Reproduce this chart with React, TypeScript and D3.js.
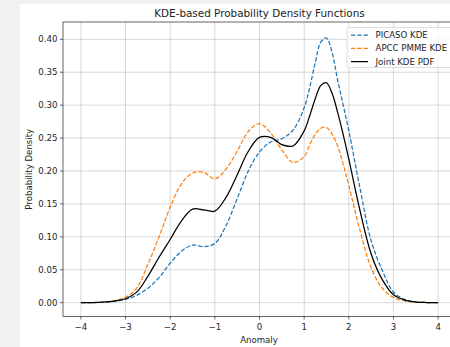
import React from "react";
import * as d3 from "d3";

const xs = [-4, -3.75, -3.5, -3.25, -3, -2.75, -2.5, -2.25, -2, -1.75, -1.5, -1.25, -1, -0.75, -0.5, -0.25, 0, 0.25, 0.5, 0.75, 1, 1.125, 1.25, 1.375, 1.5, 1.625, 1.75, 1.875, 2, 2.25, 2.5, 2.75, 3, 3.25, 3.5, 3.75, 4];
const picaso = [0, 0.0002, 0.0007, 0.002, 0.005, 0.011, 0.022, 0.038, 0.06, 0.078, 0.0875, 0.085, 0.09, 0.117, 0.158, 0.2, 0.229, 0.244, 0.249, 0.262, 0.296, 0.327, 0.365, 0.396, 0.402, 0.38, 0.338, 0.3, 0.261, 0.174, 0.094, 0.049, 0.016, 0.005, 0.0012, 0.0002, 0];
const apcc = [0, 0.0002, 0.0008, 0.003, 0.008, 0.022, 0.058, 0.1, 0.145, 0.18, 0.197, 0.198, 0.188, 0.203, 0.23, 0.26, 0.272, 0.258, 0.232, 0.213, 0.222, 0.24, 0.256, 0.265, 0.266, 0.256, 0.238, 0.21, 0.178, 0.11, 0.053, 0.022, 0.008, 0.003, 0.001, 0.0002, 0];
const joint = [0, 0.0002, 0.0008, 0.0025, 0.006, 0.016, 0.04, 0.069, 0.096, 0.124, 0.142, 0.141, 0.139, 0.16, 0.194, 0.23, 0.251, 0.251, 0.24, 0.238, 0.261, 0.284, 0.31, 0.33, 0.334, 0.318, 0.289, 0.255, 0.218, 0.14, 0.074, 0.035, 0.012, 0.004, 0.001, 0.0002, 0];
const xTicks = [-4, -3, -2, -1, 0, 1, 2, 3, 4];
const yTicks = [0, 0.05, 0.1, 0.15, 0.2, 0.25, 0.3, 0.35, 0.4];
const seriesNames = ["PICASO KDE", "APCC PMME KDE", "Joint KDE PDF"];

export default function App() {
  const W = 450, H = 347;
  const left = 63, right = 456, top = 22, bottom = 316.5;
  const x = d3.scaleLinear().domain([-4.4, 4.4]).range([left, right]);
  const y = d3.scaleLinear().domain([-0.021, 0.4263]).range([bottom, top]);
  const line = (vals: number[]) =>
    d3.line<number>().x((_, i) => x(xs[i])).y((d) => y(d)).curve(d3.curveCatmullRom.alpha(0.5))(vals) || "";
  const font = "DejaVu Sans, sans-serif";
  const fs = 8.6;
  const series = [
    { vals: picaso, color: "#1f77b4", dash: "4.4,1.9" },
    { vals: apcc, color: "#ff7f0e", dash: "4.4,1.9" },
    { vals: joint, color: "#000000", dash: "" },
  ];
  const fmt = d3.format(".2f");
  return (
    <svg width={W} height={H} style={{ position: "absolute", left: 0, top: 0 }} fontFamily={font}>
      <rect x={0} y={0} width={W} height={H} fill="#f1f1f1" />
      <rect x={20} y={4} width={W - 20} height={H - 4} fill="#ffffff" />
      <defs>
        <clipPath id="plot">
          <rect x={left} y={top} width={right - left} height={bottom - top} />
        </clipPath>
      </defs>
      {xTicks.map((t) => (
        <line key={"gx" + t} x1={x(t)} x2={x(t)} y1={top} y2={bottom} stroke="#b0b0b0" strokeOpacity={0.7} strokeWidth={0.7} />
      ))}
      {yTicks.map((t) => (
        <line key={"gy" + t} x1={left} x2={right} y1={y(t)} y2={y(t)} stroke="#b0b0b0" strokeOpacity={0.7} strokeWidth={0.7} />
      ))}
      <g clipPath="url(#plot)">
        {series.map((s, i) => (
          <path key={i} d={line(s.vals)} fill="none" stroke={s.color} strokeWidth={1.25} strokeDasharray={s.dash || undefined} />
        ))}
      </g>
      <rect x={left} y={top} width={right - left} height={bottom - top} fill="none" stroke="#222" strokeWidth={0.7} />
      {xTicks.map((t) => (
        <g key={"tx" + t}>
          <line x1={x(t)} x2={x(t)} y1={bottom} y2={bottom + 3} stroke="#222" strokeWidth={0.7} />
          <text x={x(t)} y={bottom + 13.5} fontSize={fs} textAnchor="middle" fill="#222">
            {d3.format("d")(t)}
          </text>
        </g>
      ))}
      {yTicks.map((t) => (
        <g key={"ty" + t}>
          <line x1={left - 3} x2={left} y1={y(t)} y2={y(t)} stroke="#222" strokeWidth={0.7} />
          <text x={left - 5.5} y={y(t) + 3.1} fontSize={fs} textAnchor="end" fill="#222">
            {fmt(t)}
          </text>
        </g>
      ))}
      <text x={(left + right) / 2} y={17} fontSize={10.4} textAnchor="middle" fill="#222">
        KDE-based Probability Density Functions
      </text>
      <text x={259} y={342.5} fontSize={fs} textAnchor="middle" fill="#222">
        Anomaly
      </text>
      <text transform={`translate(32, ${(top + bottom) / 2}) rotate(-90)`} fontSize={fs} textAnchor="middle" fill="#222">
        Probability Density
      </text>
      <g>
        <rect x={347} y={27.5} width={112} height={40} rx={2} fill="#ffffff" fillOpacity={0.8} stroke="#d6d6d6" strokeWidth={0.8} />
        {series.map((s, i) => (
          <g key={"lg" + i}>
            <line x1={351} x2={368} y1={35 + i * 13.3} y2={35 + i * 13.3} stroke={s.color} strokeWidth={1.25} strokeDasharray={s.dash || undefined} />
            <text x={375.5} y={35 + i * 13.3 + 3} fontSize={fs} fill="#222">
              {seriesNames[i]}
            </text>
          </g>
        ))}
      </g>
    </svg>
  );
}
